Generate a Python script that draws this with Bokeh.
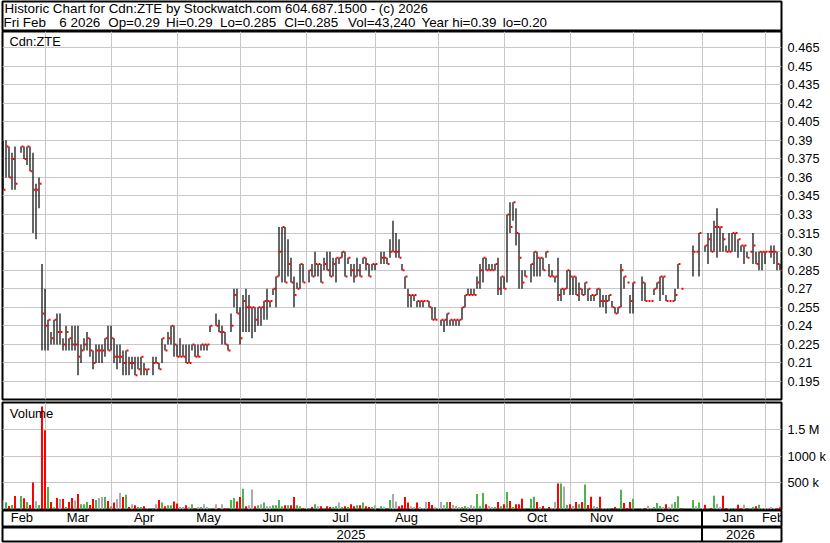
from bokeh.plotting import figure
from bokeh.layouts import column
from bokeh.models import ColumnDataSource, Range1d, FixedTicker, Span
from bokeh.core.properties import value
from bokeh.embed import file_html
from bokeh.resources import INLINE

# ---------------- data (one entry per weekday, Feb 10 2025 .. Feb 6 2026; None = no trading) ----
high = [
    .39, .39, .385, .38, .385, None, .385, .385, .385, .385,
    .38, .355, .36, .29, .27, .245, .235, .245, .25, .25,
    .23, .24, .23, .24, .24, .24, .225, .23, .235, .23,
    .22, .225, .225, .225, .23, .24, .24, .23, .225, .225,
    .22, .22, .215, .215, .215, .215, .215, .21, .205, None,
    .215, .215, .21, .23, .225, .235, .24, .24, .225, .23,
    .225, .225, .225, .225, .225, .225, .225, .225, .225, .24,
    None, .25, .245, .24, .235, .225, .25, .27, .27, .255,
    .265, .27, .265, .255, .255, .255, .255, .26, .27, .26,
    .27, .28, .32, .32, .32, .31, .295, .28, .275, .29,
    .29, None, .285, .29, .30, .29, .29, .295, .30, .30,
    .295, .295, .295, .30, .30, .295, .29, .29, .295, .29,
    .295, .295, .29, .29, .29, None, .30, .30, .295, .31,
    .325, .315, .31, .29, .28, .27, .265, .265, .26, .26,
    .26, .26, .26, .255, .255, None, .245, .245, .25, .245,
    .245, .245, .245, .255, .265, .27, .27, .27, .28, .29,
    .295, .295, .29, .29, .29, .295, .28, .28, .33, .34,
    .34, .335, .315, .285, .285, None, .29, .30, .30, .295,
    .295, .30, .29, .285, .28, .295, .27, .27, .285, .285,
    .28, .28, .275, .27, .275, .27, .265, .265, .27, .27,
    .265, .265, .265, .26, .255, .255, .29, .28, .275, .265,
    .275, None, None, .28, .275, .26, .26, .27, .275, .28,
    .28, .265, .26, .26, .27, .29, .27, None, None, None,
    .305, .30, .315, None, .305, .315, .315, .325, .335, .32,
    .315, .305, .315, .315, .315, .31, .305, .305, .30, .30,
    .315, .30, .30, .30, .30, .30, .305, .305, .30, .29,
]
low = [
    .35, .36, .36, .35, .35, None, .38, .375, .37, .365,
    .315, .31, .335, .22, .22, .22, .225, .225, .225, .225,
    .22, .22, .22, .22, .22, .20, .21, .22, .22, .215,
    .205, .21, .21, .21, .215, .22, .22, .21, .205, .21,
    .20, .20, .20, .205, .20, .205, .20, .20, .20, None,
    .20, .21, .205, .21, .22, .225, .225, .215, .215, .215,
    .215, .21, .21, .22, .215, .215, .22, .22, .22, .235,
    None, .24, .235, .225, .225, .22, .235, .255, .25, .225,
    .235, .235, .235, .23, .235, .24, .24, .245, .245, .255,
    .265, .255, .28, .275, .275, .28, .275, .255, .27, .27,
    .275, None, .275, .28, .28, .28, .275, .285, .285, .28,
    .28, .275, .29, .295, .28, .29, .28, .275, .28, .28,
    .29, .285, .28, .285, .285, None, .29, .29, .29, .295,
    .30, .295, .295, .285, .27, .255, .255, .26, .255, .255,
    .255, .26, .255, .245, .245, None, .24, .235, .24, .24,
    .24, .24, .24, .245, .255, .265, .265, .265, .27, .27,
    .275, .285, .285, .285, .285, .265, .265, .27, .275, .315,
    .325, .305, .27, .27, .28, None, .275, .28, .28, .28,
    .285, .295, .28, .28, .275, .26, .26, .265, .27, .265,
    .265, .265, .26, .265, .265, .26, .26, .26, .265, .255,
    .255, .25, .26, .255, .25, .25, .255, .27, .275, .25,
    .25, None, None, .26, .26, .26, .26, .265, .27, .26,
    .265, .26, .26, .26, .26, .27, .27, None, None, None,
    .28, .30, .28, None, .30, .29, .30, .30, .295, .30,
    .30, .30, .30, .30, .30, .295, .30, .29, .295, .30,
    .29, .29, .285, .285, .29, .30, .295, .29, .285, .285,
]
close = [
    .35, .385, .36, .375, .355, None, .385, .375, .385, .365,
    .35, .35, .355, .25, .24, .245, .23, .245, .235, .235,
    .225, .235, .23, .225, .225, .215, .22, .225, .23, .22,
    .21, .22, .22, .22, .23, .22, .23, .215, .215, .215,
    .21, .22, .21, .21, .20, .205, .215, .205, .205, None,
    .21, .21, .205, .23, .22, .23, .24, .225, .215, .215,
    .215, .21, .21, .225, .215, .215, .225, .225, .225, .24,
    None, .24, .235, .235, .225, .22, .24, .265, .25, .23,
    .26, .255, .255, .255, .245, .255, .255, .26, .26, .26,
    .27, .28, .30, .32, .275, .29, .275, .265, .27, .29,
    .275, None, .285, .28, .29, .29, .275, .29, .285, .28,
    .29, .295, .295, .30, .28, .295, .285, .28, .285, .28,
    .295, .29, .28, .29, .29, None, .295, .295, .29, .30,
    .30, .30, .295, .285, .28, .265, .265, .265, .26, .26,
    .26, .26, .255, .245, .245, None, .245, .245, .25, .245,
    .245, .245, .245, .255, .265, .265, .265, .265, .275, .285,
    .295, .285, .285, .285, .29, .27, .28, .27, .33, .32,
    .34, .315, .295, .275, .28, None, .29, .30, .295, .295,
    .285, .30, .28, .28, .28, .265, .27, .27, .285, .28,
    .28, .265, .27, .265, .275, .27, .265, .265, .27, .26,
    .26, .26, .265, .255, .25, .255, .285, .28, .275, .26,
    .275, None, None, .275, .26, .26, .26, .27, .275, .28,
    .28, .26, .26, .26, .265, .29, .27, None, None, None,
    .30, .30, .315, None, .305, .31, .30, .32, .32, .32,
    .31, .30, .30, .315, .315, .31, .305, .305, .295, .30,
    .305, .29, .30, .30, .30, .30, .30, .30, .29, .285,
]
volume_k = [
    177, 135, 64, 83, 256, 0, 256, 212, 141, 83,
    506, 160, 83, 1936, 1490, 425, 142, 43, 217, 198,
    198, 45, 142, 217, 170, 292, 100, 100, 142, 85,
    198, 180, 217, 236, 236, 160, 60, 130, 198, 310,
    236, 275, 45, 100, 80, 45, 45, 60, 25, 0,
    25, 100, 180, 130, 60, 80, 80, 150, 115, 45,
    45, 80, 45, 100, 25, 45, 45, 100, 45, 25,
    0, 100, 25, 100, 25, 25, 180, 217, 150, 236,
    390, 60, 80, 375, 60, 80, 100, 130, 60, 60,
    80, 80, 180, 60, 80, 80, 80, 236, 80, 60,
    25, 0, 25, 45, 100, 60, 60, 25, 60, 45,
    45, 60, 130, 45, 60, 45, 100, 60, 80, 80,
    130, 60, 45, 45, 80, 0, 60, 45, 25, 180,
    290, 150, 60, 80, 236, 130, 60, 45, 130, 45,
    26, 140, 140, 83, 45, 0, 140, 83, 140, 140,
    83, 64, 45, 45, 64, 45, 83, 60, 290, 60,
    310, 100, 64, 45, 45, 140, 60, 100, 330, 160,
    45, 100, 100, 200, 25, 0, 200, 240, 140, 45,
    64, 25, 45, 25, 140, 490, 490, 430, 83, 100,
    64, 140, 100, 140, 470, 83, 240, 64, 45, 240,
    25, 25, 25, 25, 45, 30, 370, 120, 25, 140,
    200, 0, 0, 25, 25, 64, 25, 45, 120, 64,
    45, 100, 45, 100, 140, 250, 25, 0, 0, 0,
    180, 60, 130, 0, 90, 30, 30, 260, 110, 45,
    260, 30, 30, 30, 20, 90, 20, 90, 20, 30,
    45, 60, 90, 30, 30, 30, 45, 30, 20, 43.24,
]

price_tick_labels = ["0.195", "0.21", "0.225", "0.24", "0.255", "0.27", "0.285", "0.30",
                     "0.315", "0.33", "0.345", "0.36", "0.375", "0.39", "0.405", "0.42",
                     "0.435", "0.45", "0.465"]
vol_ticks = [500000, 1000000, 1500000]
vol_tick_labels = ["500 k", "1000 k", "1.5 M"]

month_names = ["Feb", "Mar", "Apr", "May", "Jun", "Jul", "Aug", "Sep", "Oct", "Nov", "Dec", "Jan", "Feb"]
month_grid = [14, 36, 58, 79, 101, 124, 145, 167, 189, 210, 233, 254]   # bar index of month boundaries
month_label_x = [6.3, 25, 47, 68.5, 90, 112.5, 134.5, 156, 178, 199.5, 221.5, 243.3, 256.7]
year_names = ["2025", "2026"]
year_label_x = [116.0, 245.8]
year_split = 233

header_1 = "Historic Chart for Cdn:ZTE by Stockwatch.com 604.687.1500 - (c) 2026"
header_2_parts = ["Fri Feb", "6 2026", "Op=0.29", "Hi=0.29", "Lo=0.285", "Cl=0.285",
                  "Vol=43,240", "Year hi=0.39", "lo=0.20"]
header_2_x = [1, 57, 106, 164, 218, 282.5, 346.5, 420, 501.5]

# ---------------- styling ----------------
W = 830
ML, MR = 2, 49
FONT = "Liberation Sans"
FS = "12.8px"
FS_ROW = "13px"
FS_HDR = "13.4px"
GRID = "#c8c8c8"
RED, GREEN, GREY = "#ff0000", "#4db34d", "#aaaaaa"

# ---------------- sources ----------------
bx, bh, bl, bc = [], [], [], []
vx, vv, vc = [], [], []
prev = None
for i, (h, l, c, vk) in enumerate(zip(high, low, close, volume_k)):
    if c is None:
        continue
    bx.append(i); bh.append(h); bl.append(l); bc.append(c)
    if prev is None or c == prev:
        col = GREY
    elif c > prev:
        col = GREEN
    else:
        col = RED
    prev = c
    if vk > 0:
        vx.append(i); vv.append(vk * 1000); vc.append(col)

bar_src = ColumnDataSource(dict(x=bx, high=bh, low=bl, close=bc,
                                tx0=[x + 0.17 for x in bx], tx1=[x + 0.83 for x in bx]))
vol_src = ColumnDataSource(dict(x=vx, vol=vv, color=vc))

xr = Range1d(-1.0 / 6.0, 259.5)


def panel(h, **kw):
    f = figure(width=W, height=h, x_range=xr, output_backend="svg", toolbar_location=None,
               min_border_left=ML, min_border_right=MR, **kw)
    f.outline_line_color = "black"
    f.outline_line_width = 2
    f.background_fill_color = "white"
    f.border_fill_color = "white"
    f.add_layout(Span(location=W - ML - 2, location_units="screen", dimension="height",
                      line_color="black", line_width=2))
    return f


def style_right_axis(ax):
    ax.axis_line_color = None
    ax.major_tick_line_color = None
    ax.minor_tick_line_color = None
    ax.major_tick_out = 0
    ax.major_tick_in = 0
    ax.major_label_standoff = 6
    ax.major_label_text_font = FONT
    ax.major_label_text_font_size = FS
    ax.major_label_text_color = "black"


def add_text(fig, xs, ys, texts, size, align="left"):
    fig.text(x=xs, y=ys, text=texts, text_align=align, text_baseline="middle",
             text_font=value(FONT), text_font_size=value(size), text_color="black")


# ---------------- header ----------------
hdr = figure(width=W, height=31, x_range=Range1d(0, 781), y_range=Range1d(31, 1),
             output_backend="svg", toolbar_location=None, x_axis_location=None, y_axis_location=None,
             min_border_left=0, min_border_right=2, min_border_top=1, min_border_bottom=0)
hdr.grid.visible = False
hdr.outline_line_color = "black"
hdr.outline_line_width = 2
add_text(hdr, [2], [8.3], [header_1], FS_HDR)
add_text(hdr, header_2_x, [21.7] * len(header_2_parts), header_2_parts, FS_HDR)

# ---------------- price panel ----------------
price_ticks = [float(s) for s in price_tick_labels]
p = panel(370, y_range=Range1d(0.18045, 0.47801), y_axis_location="right", x_axis_location=None,
          min_border_top=0, min_border_bottom=2)
p.xgrid.ticker = FixedTicker(ticks=month_grid)
p.ygrid.ticker = FixedTicker(ticks=price_ticks)
for g in p.grid:
    g.grid_line_color = GRID
    g.grid_line_width = 1
p.yaxis.ticker = FixedTicker(ticks=price_ticks)
p.yaxis.major_label_overrides = dict(zip(price_ticks, price_tick_labels))
style_right_axis(p.yaxis[0])
p.segment(x0="x", y0="low", x1="x", y1="high", source=bar_src, line_color="black", line_width=1.2)
p.segment(x0="tx0", y0="close", x1="tx1", y1="close", source=bar_src, line_color=RED, line_width=2)
add_text(p, [2.17], [0.46968], ["Cdn:ZTE"], FS)

# ---------------- volume panel ----------------
v = panel(109, y_range=Range1d(0, 2011300), y_axis_location="right", x_axis_location=None,
          min_border_top=1, min_border_bottom=1)
v.xgrid.ticker = FixedTicker(ticks=month_grid)
v.ygrid.ticker = FixedTicker(ticks=vol_ticks)
for g in v.grid:
    g.grid_line_color = GRID
    g.grid_line_width = 1
v.yaxis.ticker = FixedTicker(ticks=vol_ticks)
v.yaxis.major_label_overrides = dict(zip(vol_ticks, vol_tick_labels))
style_right_axis(v.yaxis[0])
v.vbar(x="x", top="vol", bottom=0, width=0.67, fill_color="color", line_color=None, source=vol_src)
add_text(v, [2.27], [1805000], ["Volume"], "13px")

# ---------------- month row ----------------
m = panel(17, y_range=Range1d(0, 1), x_axis_location=None, y_axis_location=None,
          min_border_top=0, min_border_bottom=1)
m.grid.visible = False
add_text(m, month_label_x, [0.55] * len(month_names), month_names, FS_ROW, align="center")
m.add_layout(Span(location=year_split, dimension="height", line_color="black", line_width=2))

# ---------------- year row ----------------
yr = panel(16, y_range=Range1d(0, 1), x_axis_location=None, y_axis_location=None,
           min_border_top=0, min_border_bottom=2)
yr.grid.visible = False
add_text(yr, year_label_x, [0.5] * len(year_names), year_names, FS_ROW, align="center")
yr.add_layout(Span(location=year_split, dimension="height", line_color="black", line_width=2))

layout = column(hdr, p, v, m, yr, spacing=0)

open("out.html", "w").write(file_html(layout, INLINE))
